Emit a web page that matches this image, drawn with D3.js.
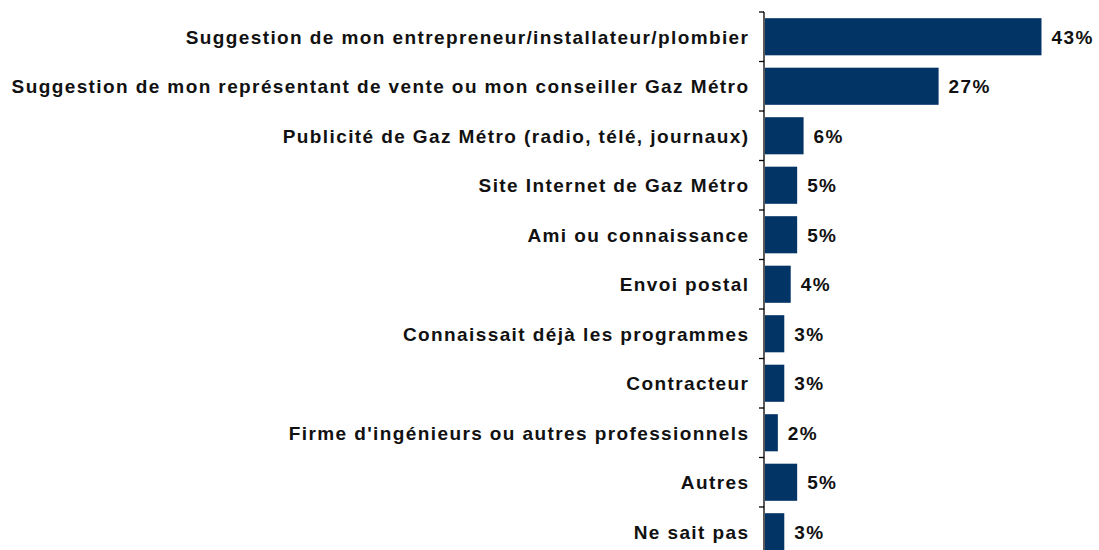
<!DOCTYPE html>
<html><head><meta charset="utf-8">
<script src="https://d3js.org/d3.v7.min.js"></script>
<style>body{margin:0;background:#fff}svg{display:block}</style>
</head><body>
<svg id="c" width="1099" height="550"></svg>
<script>
const categories = [
  "Suggestion de mon entrepreneur/installateur/plombier",
  "Suggestion de mon représentant de vente ou mon conseiller Gaz Métro",
  "Publicité de Gaz Métro (radio, télé, journaux)",
  "Site Internet de Gaz Métro",
  "Ami ou connaissance",
  "Envoi postal",
  "Connaissait déjà les programmes",
  "Contracteur",
  "Firme d'ingénieurs ou autres professionnels",
  "Autres",
  "Ne sait pas"
];
const values = [43, 27, 6, 5, 5, 4, 3, 3, 2, 5, 3];
const valueLabels = ["43%", "27%", "6%", "5%", "5%", "4%", "3%", "3%", "2%", "5%", "3%"];

const svg = d3.select("#c");
const axisX = 764;
const x = d3.scaleLinear().domain([0, 50]).range([axisX + 1, axisX + 1 + 321.5]);
const y = d3.scaleBand().domain(categories).range([12, 12 + 49.5 * 11]).paddingInner(0.25).paddingOuter(0.125);

const font = "'Liberation Sans', Arial, sans-serif";
const ls = 1.4;

svg.selectAll("rect.bar").data(categories).join("rect")
  .attr("class", "bar")
  .attr("x", x(0))
  .attr("y", d => y(d))
  .attr("width", (d, i) => x(values[i]) - x(0))
  .attr("height", y.bandwidth())
  .attr("fill", "#033466");

// axis line and boundary ticks
svg.append("line").attr("x1", axisX).attr("x2", axisX).attr("y1", 12).attr("y2", 550)
  .attr("stroke", "#000").attr("stroke-width", 1.3);
const step = y.step();
const bounds = d3.range(categories.length + 1).map(i => 12 + i * step);
svg.selectAll("line.tk").data(bounds).join("line").attr("class", "tk")
  .attr("x1", axisX - 5).attr("x2", axisX).attr("y1", d => d).attr("y2", d => d)
  .attr("stroke", "#000").attr("stroke-width", 1.3);

svg.selectAll("text.cat").data(categories).join("text").attr("class", "cat")
  .attr("x", 748 + ls)
  .attr("y", d => y(d) + y.bandwidth() / 2)
  .attr("dy", "0.36em")
  .attr("text-anchor", "end")
  .attr("font-family", font).attr("font-weight", "bold").attr("font-size", 19)
  .attr("letter-spacing", ls)
  .attr("fill", "#111")
  .text(d => d);

svg.selectAll("text.val").data(categories).join("text").attr("class", "val")
  .attr("x", (d, i) => x(values[i]) + 10)
  .attr("y", d => y(d) + y.bandwidth() / 2)
  .attr("dy", "0.36em")
  .attr("font-family", font).attr("font-weight", "bold").attr("font-size", 19)
  .attr("letter-spacing", ls)
  .attr("fill", "#111")
  .text((d, i) => valueLabels[i]);
</script>
</body></html>
